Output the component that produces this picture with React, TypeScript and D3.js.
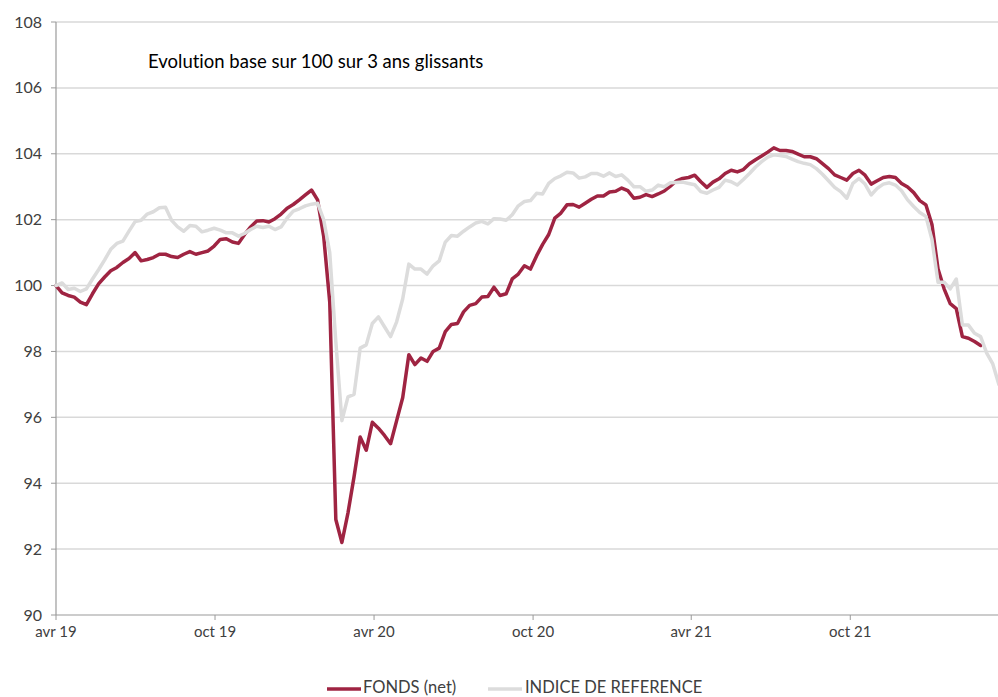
import React from "react";
import * as d3 from "d3";

// weekly closes, base 100 on 2019-04-01
const startDate = new Date(2019, 3, 1);
const endDate = new Date(2022, 2, 20);

const fondsValues = [
  100.0, 99.78, 99.7, 99.65, 99.5, 99.42, 99.75, 100.05, 100.26, 100.45,
  100.55, 100.7, 100.82, 101.0, 100.75, 100.79, 100.85, 100.95, 100.95, 100.88,
  100.85, 100.95, 101.03, 100.95, 101.0, 101.05, 101.2, 101.4, 101.42, 101.32,
  101.28, 101.55, 101.78, 101.96, 101.97, 101.93, 102.03, 102.17, 102.35, 102.46,
  102.6, 102.75, 102.9, 102.6, 101.5, 99.5, 92.9, 92.2, 93.1, 94.2,
  95.4, 95.0, 95.85, 95.67, 95.45, 95.2, 95.9, 96.6, 97.9, 97.6,
  97.8, 97.7, 98.0, 98.1, 98.6, 98.82, 98.85, 99.2, 99.4, 99.45,
  99.65, 99.67, 99.95, 99.7, 99.75, 100.2, 100.35, 100.6, 100.5, 100.9,
  101.25, 101.55, 102.05, 102.2, 102.45, 102.46, 102.38, 102.5, 102.62, 102.72,
  102.72, 102.84, 102.86, 102.96, 102.88, 102.65, 102.68, 102.76, 102.7, 102.78,
  102.87, 103.02, 103.18, 103.25, 103.28, 103.35, 103.15, 102.98, 103.14, 103.24,
  103.4, 103.5, 103.45, 103.52, 103.7, 103.82, 103.93, 104.05, 104.18, 104.1,
  104.1, 104.07, 103.99, 103.91, 103.91, 103.85, 103.7, 103.55, 103.36, 103.28,
  103.2, 103.4, 103.5, 103.35, 103.08, 103.18, 103.28, 103.31, 103.28, 103.1,
  102.99, 102.82, 102.58, 102.45, 101.85, 100.5, 99.9, 99.45, 99.3, 98.45,
  98.4, 98.3, 98.18,
];

const indiceValues = [
  100.0, 100.08, 99.88, 99.92, 99.82, 99.9, 100.2, 100.48, 100.78, 101.1,
  101.28, 101.35, 101.65, 101.94, 101.98, 102.17, 102.24, 102.36, 102.38, 101.98,
  101.78, 101.65, 101.82, 101.8, 101.63, 101.68, 101.74, 101.68, 101.6, 101.6,
  101.5, 101.58, 101.7, 101.8, 101.76, 101.8, 101.7, 101.78, 102.05, 102.26,
  102.33, 102.42, 102.47, 102.5, 102.0, 101.0, 98.3, 95.9, 96.62, 96.7,
  98.1, 98.2, 98.85, 99.05, 98.75, 98.45, 98.9, 99.6, 100.65, 100.5,
  100.5, 100.35, 100.6, 100.75, 101.32, 101.52, 101.5, 101.65, 101.78, 101.9,
  101.95, 101.87, 102.03, 102.02, 101.98, 102.15, 102.42, 102.55, 102.58, 102.8,
  102.78, 103.1, 103.25, 103.33, 103.44, 103.42, 103.26, 103.3, 103.4, 103.4,
  103.32, 103.42, 103.31, 103.36, 103.2, 103.0, 103.0, 102.86, 102.9, 103.05,
  103.0, 103.12, 103.13, 103.14, 103.1, 103.06, 102.85, 102.8, 102.9, 102.98,
  103.2, 103.15, 103.05, 103.22, 103.4, 103.6, 103.76, 103.9, 103.97, 103.95,
  103.92, 103.84, 103.76, 103.71, 103.67, 103.55, 103.38, 103.18, 102.98, 102.85,
  102.65, 103.1, 103.25, 103.08, 102.75, 102.95, 103.08, 103.12, 103.05, 102.88,
  102.6, 102.4, 102.22, 102.1, 101.4, 100.1, 100.1, 99.9, 100.2, 98.8,
  98.8, 98.55, 98.45, 97.95, 97.62, 97.0,
];

const xTickDates = [
  new Date(2019, 3, 1), new Date(2019, 9, 1), new Date(2020, 3, 1),
  new Date(2020, 9, 1), new Date(2021, 3, 1), new Date(2021, 9, 1),
];
const xTickLabels = ["avr 19", "oct 19", "avr 20", "oct 20", "avr 21", "oct 21"];
const yTicks = [90, 92, 94, 96, 98, 100, 102, 104, 106, 108];

const seriesNames = ["FONDS (net)", "INDICE DE REFERENCE"];
const seriesColors = ["#9f2442", "#dcdcdc"];
const title = "Evolution base sur 100 sur 3 ans glissants";

const width = 998, height = 697;
const left = 56, right = 998, top = 22, bottom = 615;
const font = "Lato, 'Open Sans', sans-serif";

const weekDate = (i: number) => d3.timeDay.offset(startDate, i * 7);

export default function App() {
  const x = d3.scaleTime().domain([startDate, endDate]).range([left, right]);
  const y = d3.scaleLinear().domain([90, 108]).range([bottom, top]);

  const line = d3.line<number>()
    .x((d, i) => x(weekDate(i)))
    .y((d) => y(d))
    .curve(d3.curveLinear);

  return (
    <svg width={width} height={height}
      style={{ position: "absolute", left: 0, top: 0, background: "#fff", fontVariantLigatures: "none" }}
      fontFamily={font}>
      {/* grid */}
      {yTicks.map((t) => (
        <g key={t}>
          {t > 90 && (
            <line x1={left} x2={right} y1={y(t)} y2={y(t)} stroke="#d9d9d9" strokeWidth={1.5} />
          )}
          <line x1={left - 5} x2={left} y1={y(t)} y2={y(t)} stroke="#9a9a9a" strokeWidth={1} />
          <text x={42} y={y(t)} dy="0.35em" textAnchor="end" fontSize={16} fill="#404040">{t}</text>
        </g>
      ))}
      <line x1={left} x2={left} y1={top} y2={bottom} stroke="#9a9a9a" strokeWidth={1.2} />
      <line x1={left} x2={right} y1={bottom} y2={bottom} stroke="#9a9a9a" strokeWidth={1.2} />
      {xTickDates.map((d, i) => (
        <g key={i}>
          <line x1={x(d)} x2={x(d)} y1={bottom} y2={bottom + 5} stroke="#9a9a9a" strokeWidth={1} />
          <text x={x(d)} y={637} textAnchor="middle" fontSize={15} fill="#404040">{xTickLabels[i]}</text>
        </g>
      ))}

      {/* series */}
      <path d={line(fondsValues) || ""} fill="none" stroke={seriesColors[0]}
        strokeWidth={3.5} strokeLinejoin="round" strokeLinecap="round" />
      <path d={line(indiceValues) || ""} fill="none" stroke={seriesColors[1]}
        strokeWidth={3.5} strokeLinejoin="round" strokeLinecap="round" />

      <text x={148} y={68} fontSize={18.5} fill="#000">{title}</text>

      {/* legend */}
      <line x1={327} x2={361} y1={689} y2={689} stroke={seriesColors[0]} strokeWidth={3.5} />
      <text x={363} y={693} fontSize={16.5} fill="#404040">{seriesNames[0]}</text>
      <line x1={488} x2={522} y1={689} y2={689} stroke={seriesColors[1]} strokeWidth={3.5} />
      <text x={525} y={693} fontSize={16.5} fill="#404040">{seriesNames[1]}</text>
    </svg>
  );
}
